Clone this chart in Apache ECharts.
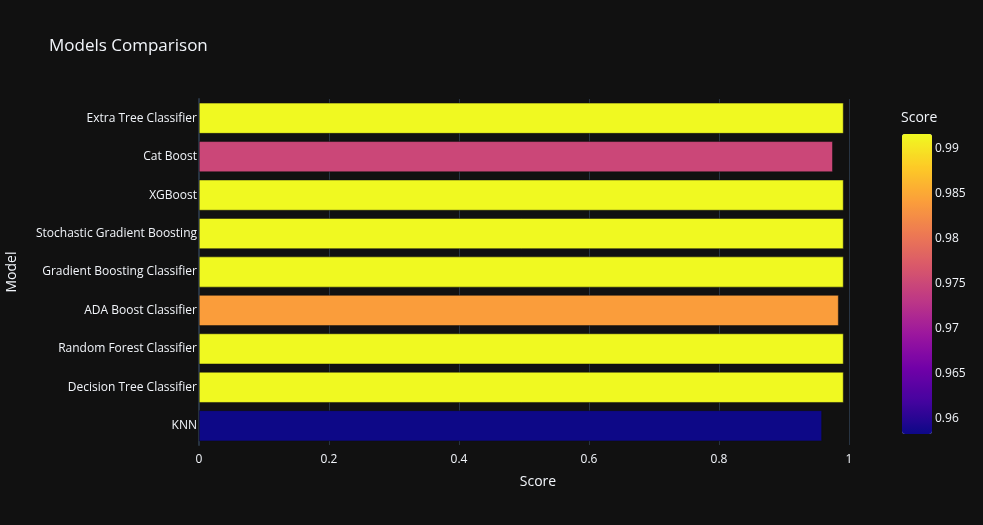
<!DOCTYPE html>
<html>
<head>
<meta charset="utf-8">
<script src="https://cdn.jsdelivr.net/npm/echarts@6/dist/echarts.min.js"></script>
<style>html,body{margin:0;padding:0;background:#111111;}#c{width:983px;height:525px;}</style>
</head>
<body>
<div id="c"></div>
<script>
// categories listed bottom-to-top (ECharts category y axis starts at bottom)
const categories = ['KNN','Decision Tree Classifier','Random Forest Classifier','ADA Boost Classifier','Gradient Boosting Classifier','Stochastic Gradient Boosting','XGBoost','Cat Boost','Extra Tree Classifier'];
const scores = [0.9583, 0.9916, 0.9916, 0.9840, 0.9916, 0.9916, 0.9916, 0.9750, 0.9916];
const xTicks = [0, 0.2, 0.4, 0.6, 0.8, 1];
const colorTicks = [0.96, 0.965, 0.97, 0.975, 0.98, 0.985, 0.99];
const plasma = ['#0d0887','#46039f','#7201a8','#9c179e','#bd3786','#d8576b','#ed7953','#fb9f3a','#fdca26','#f0f921'];
const cMin = 0.9583, cMax = 0.9916;

const font = '"Open Sans", "Noto Sans", sans-serif';
const txt = '#f2f5fa';
const chart = echarts.init(document.getElementById('c'));
chart.setOption({
  backgroundColor: '#111111',
  textStyle: {fontFamily: font, color: txt},
  title: {text: 'Models Comparison', left: 44, top: 33, textStyle: {fontFamily: font, fontSize: 17, fontWeight: 'normal', color: txt}},
  grid: [
    {left: 199, top: 99, width: 650, height: 346, outerBoundsMode: 'none', containLabel: false},
    {left: 902, top: 134, width: 30, height: 300, outerBoundsMode: 'none', containLabel: false}
  ],
  xAxis: [
    {type: 'value', gridIndex: 0, min: 0, max: 1, interval: 0.2,
     axisLine: {show: false}, axisTick: {show: false},
     axisLabel: {color: txt, fontFamily: font, fontSize: 12, margin: 9, formatter: v => String(Math.round(v*10)/10)},
     splitLine: {show: true, lineStyle: {color: '#283442', width: 1}}},
    {type: 'value', gridIndex: 1, show: false, min: 0, max: 1}
  ],
  yAxis: [
    {type: 'category', gridIndex: 0, data: categories,
     name: 'Model', nameLocation: 'middle', nameGap: 180, nameRotate: 90,
     nameTextStyle: {fontFamily: font, fontSize: 14, color: txt},
     axisLine: {show: true, lineStyle: {color: '#283442', width: 2}},
     axisTick: {show: false},
     axisLabel: {color: txt, fontFamily: font, fontSize: 12, margin: 2},
     splitLine: {show: false}},
    {type: 'value', gridIndex: 1, min: cMin, max: cMax, position: 'right',
     axisLine: {show: false}, axisTick: {show: false}, splitLine: {show: false},
     axisLabel: {show: true, customValues: colorTicks, color: txt, fontFamily: font, fontSize: 12, margin: 3,
       formatter: v => String(Math.round(v*1000)/1000)}}
  ],
  visualMap: {
    type: 'continuous', seriesIndex: 0, dimension: 0, min: cMin, max: cMax,
    left: 902, top: 134, itemWidth: 30, itemHeight: 300, padding: 0,
    calculable: false, showLabel: false, text: ['', ''],
    inRange: {color: plasma}
  },
  graphic: [
    {type: 'text', left: 901, top: 111, style: {text: 'Score', fill: txt, font: '14px ' + font}},
    {type: 'text', x: 538, y: 482, style: {text: 'Score', fill: txt, font: '14px ' + font, align: 'center', verticalAlign: 'middle'}}
  ],
  series: [
    {type: 'bar', xAxisIndex: 0, yAxisIndex: 0, barWidth: '80%',
     data: categories.map((c, i) => [scores[i], c]),
     itemStyle: {borderColor: '#111111', borderWidth: 0.5}}
  ]
});
</script>
</body>
</html>
